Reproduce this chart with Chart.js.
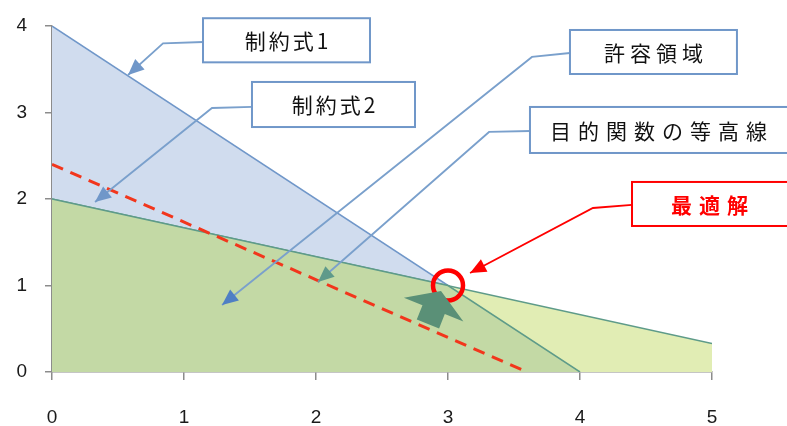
<!DOCTYPE html>
<html>
<head>
<meta charset="utf-8">
<script src="https://cdn.jsdelivr.net/npm/chart.js@4.4.1/dist/chart.umd.min.js"></script>
<style>
  html, body { margin: 0; padding: 0; background: #fff; }
  #wrap { width: 787px; height: 426px; }
</style>
</head>
<body>
<div id="wrap"><canvas id="lpChart" width="787" height="426"></canvas></div>
<script>
/* ---------- Data ---------- */

const xTicks = [0, 1, 2, 3, 4, 5];
const yTicks = [0, 1, 2, 3, 4];

const constraint1 = [{ x: 0, y: 4 }, { x: 4, y: 0 }];
const constraint2 = [{ x: 0, y: 2 }, { x: 5, y: 0.33 }];
const feasible = [{ x: 0, y: 2 }, { x: 3, y: 1 }, { x: 4, y: 0 }];
const objective = [{ x: 0, y: 2.4 }, { x: 3.6, y: 0 }];
const optimum = [{ x: 3, y: 1 }];

// callouts, in data units: box [x1, yTop, x2, yBottom], leader [start, elbow, tip]
const calloutLabels = ["制約式1", "制約式2", "許容領域", "目的関数の等高線", "最適解"];
const calloutBoxes = [
  [1.144, 4.09, 2.409, 3.58],
  [1.515, 3.353, 2.75, 2.832],
  [3.924, 3.954, 5.189, 3.445],
  [3.621, 3.064, 5.6, 2.532],
  [4.394, 2.197, 5.6, 1.688]
];
const calloutLeaders = [
  [[1.144, 3.815], [0.841, 3.80], [0.576, 3.434]],
  [[1.515, 3.064], [1.212, 3.052], [0.326, 1.965]],
  [[3.924, 3.688], [3.636, 3.642], [1.288, 0.775]],
  [[3.621, 2.786], [3.311, 2.775], [2.015, 1.04]],
  [[4.394, 1.931], [4.098, 1.896], [3.167, 1.145]]
];

// improving direction of the objective (tail -> tip)
const moveArrow = [[2.848, 0.555], [2.947, 0.936]];

/* ---------- Styles ---------- */

const BLUE = "#7097c9";
const TEAL = "#5e9b89";
const RED = "#ff0000";
const calloutStyles = [
  { border: BLUE, color: "#111", bold: false, spacing: 3, head: BLUE },
  { border: BLUE, color: "#111", bold: false, spacing: 3, head: BLUE },
  { border: BLUE, color: "#111", bold: false, spacing: 5, head: "#4f7fc4" },
  { border: BLUE, color: "#111", bold: false, spacing: 7, head: "#5f9a8a" },
  { border: RED, color: RED, bold: true, spacing: 7, head: RED }
];

/* ---------- Drawing helpers ---------- */

function px(chart, p) {
  return [chart.scales.x.getPixelForValue(p[0]), chart.scales.y.getPixelForValue(p[1])];
}

function arrowHead(ctx, from, to, len, half, color) {
  const dx = to[0] - from[0], dy = to[1] - from[1];
  const d = Math.hypot(dx, dy);
  const ux = dx / d, uy = dy / d;
  const bx = to[0] - ux * len, by = to[1] - uy * len;
  ctx.fillStyle = color;
  ctx.beginPath();
  ctx.moveTo(to[0], to[1]);
  ctx.lineTo(bx - uy * half, by + ux * half);
  ctx.lineTo(bx + uy * half, by - ux * half);
  ctx.closePath();
  ctx.fill();
}

const blockArrowPlugin = {
  id: "blockArrow",
  afterDatasetsDraw(chart) {
    const ctx = chart.ctx;
    const tail = px(chart, moveArrow[0]);
    const tip = px(chart, moveArrow[1]);
    const dx = tip[0] - tail[0], dy = tip[1] - tail[1];
    const d = Math.hypot(dx, dy);
    const ux = dx / d, uy = dy / d, nx = -uy, ny = ux;
    const headLen = 20, headHalf = 32, shaftHalf = 12;
    const hb = [tip[0] - ux * headLen, tip[1] - uy * headLen];
    const pts = [
      [tail[0] + nx * shaftHalf, tail[1] + ny * shaftHalf],
      [hb[0] + nx * shaftHalf, hb[1] + ny * shaftHalf],
      [hb[0] + nx * headHalf, hb[1] + ny * headHalf],
      tip,
      [hb[0] - nx * headHalf, hb[1] - ny * headHalf],
      [hb[0] - nx * shaftHalf, hb[1] - ny * shaftHalf],
      [tail[0] - nx * shaftHalf, tail[1] - ny * shaftHalf]
    ];
    ctx.save();
    ctx.fillStyle = "#5a9077";
    ctx.beginPath();
    pts.forEach((p, i) => (i ? ctx.lineTo(p[0], p[1]) : ctx.moveTo(p[0], p[1])));
    ctx.closePath();
    ctx.fill();
    ctx.restore();
  }
};

const calloutPlugin = {
  id: "callouts",
  afterDraw(chart) {
    const ctx = chart.ctx;
    ctx.save();
    calloutLabels.forEach((label, i) => {
      const st = calloutStyles[i];
      const b = calloutBoxes[i];
      const p1 = px(chart, [b[0], b[1]]);
      const p2 = px(chart, [b[2], b[3]]);

      // leader line
      const path = calloutLeaders[i].map(p => px(chart, p));
      ctx.strokeStyle = st.head === RED ? RED : "#7aa0cc";
      ctx.lineWidth = 1.8;
      ctx.beginPath();
      ctx.moveTo(path[0][0], path[0][1]);
      ctx.lineTo(path[1][0], path[1][1]);
      ctx.lineTo(path[2][0], path[2][1]);
      ctx.stroke();
      arrowHead(ctx, path[1], path[2], 16, 7, st.head);

      // box
      ctx.fillStyle = "#fff";
      ctx.fillRect(p1[0], p1[1], p2[0] - p1[0], p2[1] - p1[1]);
      ctx.strokeStyle = st.border;
      ctx.lineWidth = 2;
      ctx.strokeRect(p1[0], p1[1], p2[0] - p1[0], p2[1] - p1[1]);

      // text
      const cx = Math.min((p1[0] + p2[0]) / 2, (p1[0] + 787) / 2);
      const cy = (p1[1] + p2[1]) / 2;
      ctx.font = (st.bold ? "bold " : "") + '21px "Noto Sans CJK JP"';
      ctx.letterSpacing = st.spacing + "px";
      ctx.fillStyle = st.color;
      ctx.textAlign = "center";
      ctx.textBaseline = "middle";
      ctx.fillText(label, cx + st.spacing / 2, cy + 1);
    });
    ctx.restore();
  }
};

/* ---------- Chart ---------- */

const line = (data, extra) => Object.assign({
  data,
  showLine: true,
  pointRadius: 0,
  borderWidth: 1.5,
  tension: 0
}, extra);

const tickFont = { family: "Liberation Sans", size: 19 };

new Chart(document.getElementById("lpChart"), {
  type: "scatter",
  data: {
    datasets: [
      { data: optimum, pointRadius: 15, pointBorderWidth: 4.5, pointBorderColor: RED,
        pointBackgroundColor: "rgba(0,0,0,0)", showLine: false, order: 0 },
      line(objective, { borderColor: "#f2361c", borderWidth: 3, borderDash: [12, 8], order: 1 }),
      line(feasible, { borderColor: TEAL, backgroundColor: "#c3d9a5", fill: "origin", order: 2 }),
      line(constraint2, { borderColor: TEAL, backgroundColor: "#e1edb4", fill: "origin", order: 3 }),
      line(constraint1, { borderColor: BLUE, backgroundColor: "#d0dcee", fill: "origin", order: 4 })
    ]
  },
  options: {
    responsive: false,
    animation: false,
    layout: { padding: { top: 26, right: 75, left: 0, bottom: 0 } },
    plugins: { legend: { display: false }, tooltip: { enabled: false } },
    scales: {
      x: {
        type: "linear",
        min: 0,
        max: 5,
        afterFit: s => { s.height = 54; s.paddingLeft = 0; s.paddingRight = 0; },
        afterBuildTicks: s => { s.ticks = xTicks.map(v => ({ value: v })); },
        grid: { drawOnChartArea: false, tickLength: 8, color: "#8c8c8c", lineWidth: 1.5 },
        border: { color: "#8c8c8c", width: 1.5 },
        ticks: { padding: 26, color: "#1a1a1a", font: tickFont }
      },
      y: {
        min: 0,
        max: 4,
        afterFit: s => { s.width = 52; s.paddingTop = 0; s.paddingBottom = 0; },
        afterBuildTicks: s => { s.ticks = yTicks.map(v => ({ value: v })); },
        grid: { drawOnChartArea: false, tickLength: 7, color: "#8c8c8c", lineWidth: 1.5 },
        border: { color: "#8c8c8c", width: 1.5 },
        ticks: { padding: 18, color: "#1a1a1a", font: tickFont }
      }
    }
  },
  plugins: [blockArrowPlugin, calloutPlugin]
});
</script>
</body>
</html>
